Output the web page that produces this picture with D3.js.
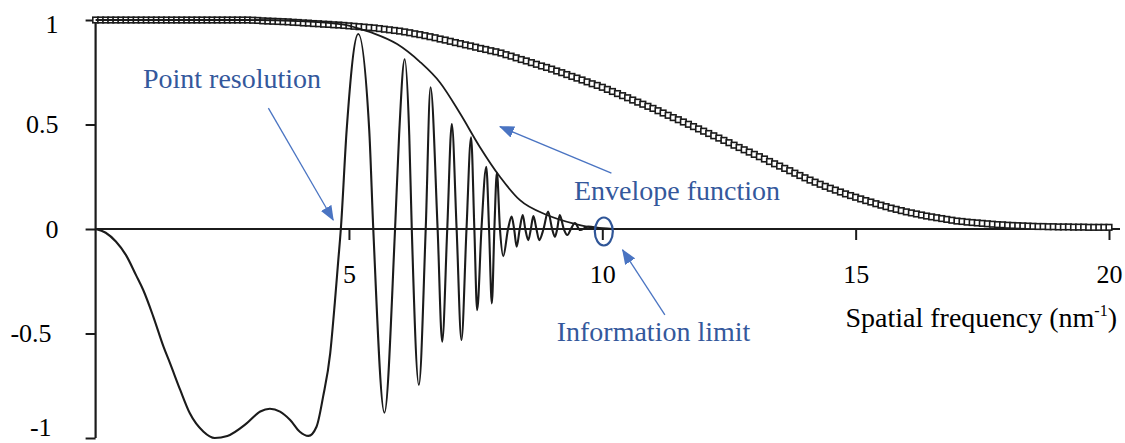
<!DOCTYPE html>
<html><head><meta charset="utf-8">
<script src="https://cdn.jsdelivr.net/npm/d3@7"></script>
<style>html,body{margin:0;padding:0;background:#fff;} svg{display:block;}</style>
</head><body>
<svg id="chart" width="1125" height="443"></svg>
<script>
// ---------- data ----------
const xTicks = [5, 10, 15, 20];
const yTicks = [-1, -0.5, 0, 0.5, 1];
const yTickLabels = ["-1", "-0.5", "0", "0.5", "1"];
const annotationTexts = ["Point resolution", "Envelope function", "Information limit"];
const xAxisTitle = ["Spatial frequency (nm", "-1", ")"];

// square-marker curve, sampled every 0.1 nm^-1 from 0 to 20
const squareStep = 0.1;
const squareValues = [
  1,1,1,1,1,1,1,1,1,1,
  1,1,1,1,1,1,1,1,1,1,
  1,1,1,1,1,1,1,1,1,1,
  1.000,.999,.998,.996,.995,.994,.993,.992,.991,.989,
  .988,.986,.985,.983,.982,.980,.979,.977,.976,.974,
  .972,.970,.968,.966,.964,.962,.959,.956,.953,.950,
  .947,.943,.939,.934,.930,.925,.920,.915,.909,.904,
  .898,.892,.887,.881,.876,.870,.864,.859,.853,.848,
  .842,.834,.827,.819,.811,.804,.796,.788,.780,.773,
  .765,.756,.748,.739,.730,.722,.713,.704,.695,.687,
  .678,.668,.658,.648,.638,.628,.617,.607,.597,.587,
  .577,.566,.555,.544,.533,.523,.512,.501,.490,.479,
  .468,.457,.446,.435,.424,.413,.401,.390,.379,.368,
  .357,.346,.335,.323,.312,.301,.290,.279,.267,.256,
  .245,.234,.224,.214,.204,.195,.186,.177,.168,.160,
  .152,.144,.136,.129,.121,.114,.107,.100,.094,.088,
  .082,.077,.072,.067,.062,.058,.054,.050,.046,.042,
  .038,.036,.033,.031,.029,.027,.025,.023,.021,.020,
  .018,.017,.016,.015,.014,.013,.012,.012,.011,.011,
  .010,.010,.010,.009,.009,.009,.008,.008,.008,.008,
  .008
];

// envelope function
const envelopePoints = [
  [0,1],[3,1],[4,0.995],[4.9,0.978],[5.25,0.955],[5.5,0.935],[5.95,0.885],
  [6.4,0.80],[6.8,0.70],[7.2,0.55],[7.58,0.394],[7.98,0.25],[8.37,0.139],
  [8.91,0.067],[9.42,0.027],[9.95,0.003],[10.3,0]
];

// contrast transfer function (oscillating curve)
const ctfPoints = [
  [0.00,0.000],[0.20,-0.018],[0.40,-0.060],[0.60,-0.125],[0.80,-0.222],[0.94,-0.292],
  [1.14,-0.420],[1.34,-0.563],[1.47,-0.643],[1.67,-0.770],[1.86,-0.882],
  [2.13,-0.970],[2.35,-1.000],[2.60,-0.990],[2.98,-0.930],[3.25,-0.873],
  [3.44,-0.860],[3.64,-0.874],[3.84,-0.914],[4.03,-0.970],[4.20,-0.990],
  [4.36,-0.946],[4.49,-0.802],[4.63,-0.595],[4.72,-0.356],[4.79,-0.148],
  [4.84,0.000],[4.955,0.474],[5.184,0.933],[5.40,0.474],[5.48,0.000],
  [5.70,-0.879],[5.91,0.000],[5.99,0.45],[6.10,0.812],[6.19,0.45],[6.24,0.000],
  [6.38,-0.746],[6.515,0.000],[6.61,0.678],[6.75,0.000],
  [6.84,-0.539],[6.94,0.000],[7.03,0.502],[7.125,0.000],
  [7.22,-0.531],[7.32,0.000],[7.41,0.439],[7.475,0.000],
  [7.53,-0.388],[7.615,0.000],[7.71,0.298],[7.765,0.000],
  [7.82,-0.356],[7.87,0.000],[7.92,0.270],[7.98,0.000],
  [8.045,-0.130],[8.14,0.000],[8.21,0.059],[8.26,0.000],
  [8.31,-0.085],[8.37,0.000],[8.43,0.067],[8.48,0.000],
  [8.54,-0.053],[8.59,0.000],[8.64,0.062],[8.70,0.000],
  [8.755,-0.053],[8.84,0.000],[8.93,0.083],[9.01,0.000],
  [9.065,-0.037],[9.11,0.000],[9.16,0.067],[9.24,0.000],
  [9.31,-0.029],[9.38,0.000],[9.46,0.029],[9.56,-0.005],
  [9.72,0.012],[9.98,0.003],[10.2,0.000]
];

// ---------- drawing ----------
const svg = d3.select("#chart");
const FONT = "'Liberation Serif','Times New Roman',serif";
const INK = "#1b1b1b";
const TEXT_BLUE = "#34589c";
const ARROW_BLUE = "#4a74c2";

const x = d3.scaleLinear().domain([0, 20]).range([95.6, 1109]);
const y = d3.scaleLinear().domain([-1, 1]).range([438, 20]);

svg.append("rect").attr("width", 1125).attr("height", 443).attr("fill", "#fff");

const defs = svg.append("defs");
defs.append("marker")
  .attr("id", "ah").attr("viewBox", "0 0 15 12")
  .attr("refX", 14).attr("refY", 6)
  .attr("markerWidth", 15).attr("markerHeight", 12)
  .attr("markerUnits", "userSpaceOnUse").attr("orient", "auto")
  .append("path").attr("d", "M0,0 L15,6 L0,12 Z").attr("fill", ARROW_BLUE);

// y axis
const yAxis = svg.append("g").attr("transform", `translate(${x(0)},0)`)
  .call(d3.axisLeft(y).tickValues(yTicks)
    .tickFormat((d, i) => yTickLabels[i]).tickSize(10).tickPadding(27));
yAxis.select(".domain").remove();
yAxis.selectAll(".tick line").attr("stroke", INK).attr("stroke-width", 2);
yAxis.selectAll(".tick text")
  .attr("font-family", FONT).attr("font-size", 26).attr("fill", "#000")
  .attr("x", d => d < 0 ? -44 : -37)
  .attr("dy", d => d === 1 ? "0.47em" : (d === -1 ? "-0.1em" : "0.32em"));

// x axis
const xAxis = svg.append("g").attr("transform", `translate(0,${y(0)})`)
  .call(d3.axisBottom(x).tickValues(xTicks).tickSize(11).tickPadding(25));
xAxis.select(".domain").remove();
xAxis.selectAll(".tick line").attr("stroke", INK).attr("stroke-width", 2);
xAxis.selectAll(".tick text")
  .attr("font-family", FONT).attr("font-size", 26).attr("fill", "#000");

// axis lines
svg.append("line").attr("x1", x(0)).attr("x2", x(0)).attr("y1", y(1)).attr("y2", y(-1))
  .attr("stroke", INK).attr("stroke-width", 2.2);
svg.append("line").attr("x1", x(0)).attr("x2", x(20) + 11).attr("y1", y(0)).attr("y2", y(0))
  .attr("stroke", INK).attr("stroke-width", 2.2);

// square-marker curve
svg.append("g").selectAll("rect").data(squareValues).join("rect")
  .attr("x", (d, i) => x(i * squareStep) - 2.8)
  .attr("y", d => y(d) - 2.8)
  .attr("width", 5.6).attr("height", 5.6)
  .attr("fill", "#fff").attr("stroke", INK).attr("stroke-width", 1.6);

// envelope
const line = d3.line().x(d => x(d[0])).y(d => y(d[1])).curve(d3.curveMonotoneX);
svg.append("path").datum(envelopePoints).attr("d", line)
  .attr("fill", "none").attr("stroke", INK).attr("stroke-width", 1.8);

// CTF
svg.append("path").datum(ctfPoints).attr("d", line)
  .attr("fill", "none").attr("stroke", INK).attr("stroke-width", 2.1)
  .attr("stroke-linejoin", "round");

// annotations
function arrow(x1, y1, x2, y2) {
  svg.append("line")
    .attr("x1", x(x1)).attr("y1", y(y1)).attr("x2", x(x2)).attr("y2", y(y2))
    .attr("stroke", ARROW_BLUE).attr("stroke-width", 1.3).attr("marker-end", "url(#ah)");
}
arrow(3.41, 0.578, 4.69, 0.043);
arrow(10.18, 0.267, 7.98, 0.49);
arrow(11.235, -0.411, 10.40, -0.10);

svg.append("ellipse").attr("cx", x(10.03)).attr("cy", y(-0.012))
  .attr("rx", 9).attr("ry", 14)
  .attr("fill", "none").attr("stroke", "#2f5597").attr("stroke-width", 2.2);

const annPos = [[0.935, 0.675], [9.44, 0.139], [9.10, -0.536]];
svg.append("g").selectAll("text").data(annotationTexts).join("text")
  .attr("x", (d, i) => x(annPos[i][0])).attr("y", (d, i) => y(annPos[i][1]))
  .attr("font-family", FONT).attr("font-size", 28).attr("fill", TEXT_BLUE)
  .text(d => d);

// axis title
const t = svg.append("text").attr("x", x(20) + 8).attr("y", y(0) + 98)
  .attr("text-anchor", "end").attr("font-family", FONT).attr("font-size", 28).attr("fill", "#000");
t.append("tspan").text(xAxisTitle[0]);
t.append("tspan").attr("font-size", 16).attr("dy", -11).text(xAxisTitle[1]);
t.append("tspan").attr("dy", 11).text(xAxisTitle[2]);
</script>
</body></html>
